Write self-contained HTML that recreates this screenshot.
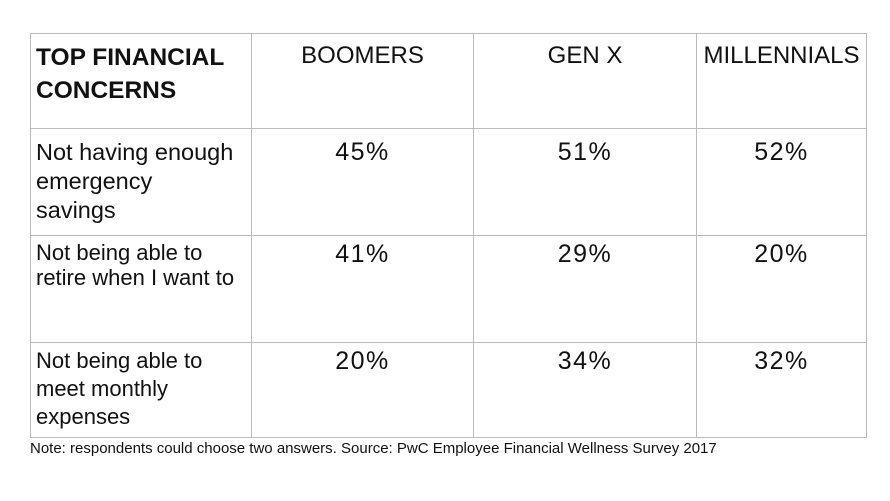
<!DOCTYPE html>
<html><head><style>
body{margin:0;width:890px;height:501px;background:#fff;position:relative;font-family:"Liberation Sans",sans-serif;color:#111;overflow:hidden}
.h{position:absolute;background:#bbb}
.t{position:absolute;font-size:23.5px;line-height:29px}
.c{text-align:center;font-size:24px}
.p{letter-spacing:1.5px;font-size:25px}
</style></head><body>
<div class="h" style="left:30px;top:33px;width:837px;height:1px"></div>
<div class="h" style="left:30px;top:128px;width:837px;height:1px"></div>
<div class="h" style="left:30px;top:235px;width:837px;height:1px"></div>
<div class="h" style="left:30px;top:342px;width:837px;height:1px"></div>
<div class="h" style="left:30px;top:437px;width:837px;height:1px"></div>
<div class="h" style="left:30px;top:33px;width:1px;height:405px"></div>
<div class="h" style="left:251px;top:33px;width:1px;height:405px"></div>
<div class="h" style="left:473px;top:33px;width:1px;height:405px"></div>
<div class="h" style="left:696px;top:33px;width:1px;height:405px"></div>
<div class="h" style="left:866px;top:33px;width:1px;height:405px"></div>

<div class="t" style="left:36px;top:41px;font-weight:bold;font-size:24.5px;line-height:33px">TOP FINANCIAL<br>CONCERNS</div>
<div class="t c" style="left:252px;width:221px;top:41px">BOOMERS</div>
<div class="t c" style="left:474px;width:222px;top:41px">GEN X</div>
<div class="t c" style="left:697px;width:169px;top:41px">MILLENNIALS</div>

<div class="t" style="left:36px;top:138px">Not having enough<br>emergency<br>savings</div>
<div class="t c p" style="left:252px;width:221px;top:138px">45%</div>
<div class="t c p" style="left:474px;width:222px;top:138px">51%</div>
<div class="t c p" style="left:697px;width:169px;top:138px">52%</div>

<div class="t" style="left:36px;top:240px;line-height:25px;font-size:22px">Not being able to<br>retire when I want to</div>
<div class="t c p" style="left:252px;width:221px;top:240px">41%</div>
<div class="t c p" style="left:474px;width:222px;top:240px">29%</div>
<div class="t c p" style="left:697px;width:169px;top:240px">20%</div>

<div class="t" style="left:36px;top:347px;line-height:28px;font-size:22px">Not being able to<br>meet monthly<br>expenses</div>
<div class="t c p" style="left:252px;width:221px;top:347px">20%</div>
<div class="t c p" style="left:474px;width:222px;top:347px">34%</div>
<div class="t c p" style="left:697px;width:169px;top:347px">32%</div>

<div style="position:absolute;left:30px;top:440px;font-size:15px;line-height:18px">Note: respondents could choose two answers. Source: PwC Employee Financial Wellness Survey 2017</div>
</body></html>
